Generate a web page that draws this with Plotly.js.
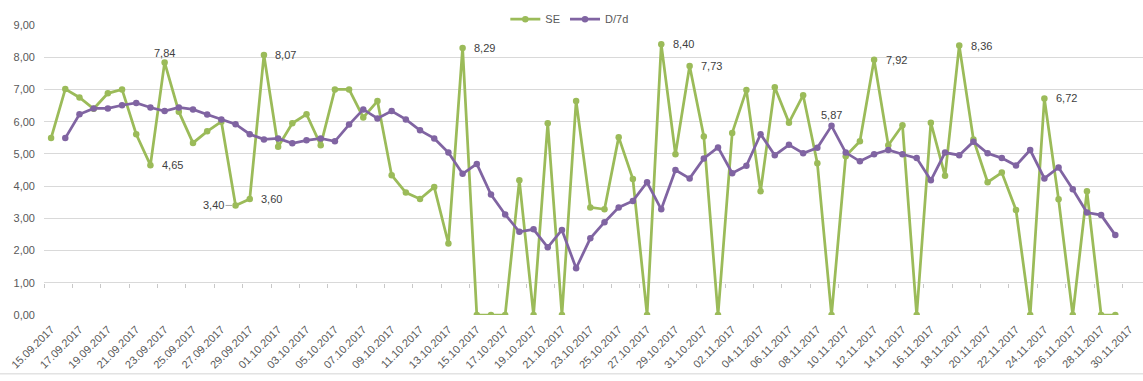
<!DOCTYPE html>
<html><head><meta charset="utf-8">
<script src="https://cdn.plot.ly/plotly-3.0.1.min.js"></script>
<style>html,body{margin:0;padding:0;background:#fff;overflow:hidden}#chart{width:1143px;height:381px}</style>
</head><body><div id="chart"></div>
<script>
const dates = [
"15.09.2017","16.09.2017","17.09.2017","18.09.2017","19.09.2017","20.09.2017","21.09.2017","22.09.2017",
"23.09.2017","24.09.2017","25.09.2017","26.09.2017","27.09.2017","28.09.2017","29.09.2017","30.09.2017",
"01.10.2017","02.10.2017","03.10.2017","04.10.2017","05.10.2017","06.10.2017","07.10.2017","08.10.2017",
"09.10.2017","10.10.2017","11.10.2017","12.10.2017","13.10.2017","14.10.2017","15.10.2017","16.10.2017",
"17.10.2017","18.10.2017","19.10.2017","20.10.2017","21.10.2017","22.10.2017","23.10.2017","24.10.2017",
"25.10.2017","26.10.2017","27.10.2017","28.10.2017","29.10.2017","30.10.2017","31.10.2017",
"01.11.2017","02.11.2017","03.11.2017","04.11.2017","05.11.2017","06.11.2017","07.11.2017","08.11.2017",
"09.11.2017","10.11.2017","11.11.2017","12.11.2017","13.11.2017","14.11.2017","15.11.2017","16.11.2017",
"17.11.2017","18.11.2017","19.11.2017","20.11.2017","21.11.2017","22.11.2017","23.11.2017","24.11.2017",
"25.11.2017","26.11.2017","27.11.2017","28.11.2017","29.11.2017","30.11.2017"];

const seValues = [
5.49,7.01,6.75,6.40,6.88,7.00,5.61,4.65,7.84,6.31,5.34,5.70,6.00,3.40,3.60,8.07,
5.22,5.95,6.23,5.27,7.00,7.00,6.13,6.64,4.34,3.80,3.60,3.97,2.22,8.29,0,0,
0,4.18,0,5.95,0,6.64,3.34,3.28,5.52,4.22,0,8.40,4.99,7.73,5.54,
0,5.65,6.98,3.84,7.07,5.97,6.82,4.71,0,4.93,5.39,7.92,5.27,5.89,0,5.97,
4.32,8.36,5.45,4.12,4.42,3.26,0,6.72,3.59,0,3.84,0,0,null];

const d7Values = [
null,5.49,6.23,6.41,6.41,6.51,6.58,6.44,6.33,6.44,6.38,6.22,6.07,5.92,5.61,5.45,
5.48,5.33,5.42,5.48,5.39,5.91,6.38,6.10,6.33,6.07,5.73,5.48,5.04,4.38,4.69,3.74,
3.12,2.58,2.66,2.10,2.64,1.45,2.38,2.88,3.34,3.54,4.12,3.28,4.50,4.24,4.86,
5.20,4.40,4.63,5.61,4.96,5.28,5.02,5.19,5.87,5.04,4.77,4.99,5.12,4.99,4.87,4.18,
5.04,4.96,5.38,5.02,4.87,4.64,5.12,4.24,4.58,3.90,3.18,3.10,2.48,null];

const seLabelIdx = [7,8,13,14,15,29,43,45,58,64,70];
const d7LabelIdx = [55];

const GREEN = '#9BBB59', PURPLE = '#8064A2';
const FONT = 'Liberation Sans, Arial, sans-serif';
const fmt = v => v.toFixed(2).replace('.', ',');
const lastX = 76.95;

const tickDates = dates.filter((d, i) => i % 2 === 0);
const boundaryTicks = dates.map((d, i) => i - 0.5).filter((v, i) => i % 2 === 0);

const traces = [
  {type:'scatter', mode:'lines+markers', name:'SE', x:dates, y:seValues,
   line:{color:GREEN, width:2.75}, marker:{color:GREEN, size:6.5, symbol:'circle'}, hoverinfo:'x+y'},
  {type:'scatter', mode:'lines+markers', name:'D/7d', x:dates, y:d7Values,
   line:{color:PURPLE, width:2.75}, marker:{color:PURPLE, size:6.5, symbol:'circle'}, hoverinfo:'x+y'},
  {type:'scatter', mode:'markers', x:[0], y:[null], xaxis:'x2', yaxis:'y', showlegend:false, hoverinfo:'skip'}
];

const labelFont = {family:FONT, size:11, color:'#404040'};
const annotations = [];
seLabelIdx.forEach(i => {
  const a = {x:dates[i], y:seValues[i], xref:'x', yref:'y', text:fmt(seValues[i]), font:labelFont, showarrow:false};
  if (i === 8) { a.xanchor='center'; a.yanchor='middle'; a.yshift=9.5; }
  else if (i === 13) { a.showarrow=true; a.arrowhead=0; a.arrowwidth=1; a.arrowcolor='#a6a6a6'; a.ax=-22; a.ay=0; a.standoff=3.5; }
  else { a.xanchor='left'; a.yanchor='middle'; a.xshift=9.5; }
  annotations.push(a);
});
d7LabelIdx.forEach(i => {
  annotations.push({x:dates[i], y:d7Values[i], xref:'x', yref:'y', text:fmt(d7Values[i]), font:labelFont,
    showarrow:false, xanchor:'center', yanchor:'middle', yshift:11});
});

const layout = {
  width:1143, height:381,
  margin:{l:44, r:0, t:25, b:66},
  paper_bgcolor:'#ffffff', plot_bgcolor:'#ffffff',
  separators:', ',
  font:{family:FONT, size:11, color:'#595959'},
  showlegend:true,
  legend:{orientation:'h', x:0.478, xanchor:'center', y:1.02, yanchor:'middle',
          font:{family:FONT, size:11, color:'#595959'}, itemwidth:30, bgcolor:'rgba(0,0,0,0)'},
  xaxis:{type:'category', categoryorder:'array', categoryarray:dates, range:[-0.5, lastX],
         tickmode:'array', tickvals:tickDates, ticktext:tickDates, tickangle:-45,
         ticks:'', showgrid:false, zeroline:false, showline:false, ticklabelstandoff:5,
         tickfont:{family:FONT, size:11, color:'#595959'}},
  xaxis2:{type:'linear', overlaying:'x', anchor:'free', position:1/9, range:[-0.5, lastX],
          tickmode:'array', tickvals:boundaryTicks, ticks:'outside', ticklen:4, tickwidth:1, tickcolor:'#c8c8c8',
          showticklabels:false, showgrid:false, zeroline:false, showline:false},
  yaxis:{range:[0,9], dtick:1, tick0:0, tickformat:'.2f', ticks:'', showline:false, zeroline:false,
         gridcolor:'#d9d9d9', gridwidth:1, ticklabelstandoff:8,
         tickfont:{family:FONT, size:11, color:'#595959'}},
  annotations:annotations,
  shapes:[{type:'line', xref:'paper', yref:'paper', x0:-0.05, x1:1.01, y0:-0.203, y1:-0.203,
           line:{color:'#d4d4d4', width:1}}]
};

Plotly.newPlot('chart', traces, layout, {displayModeBar:false, staticPlot:true});
</script></body></html>
